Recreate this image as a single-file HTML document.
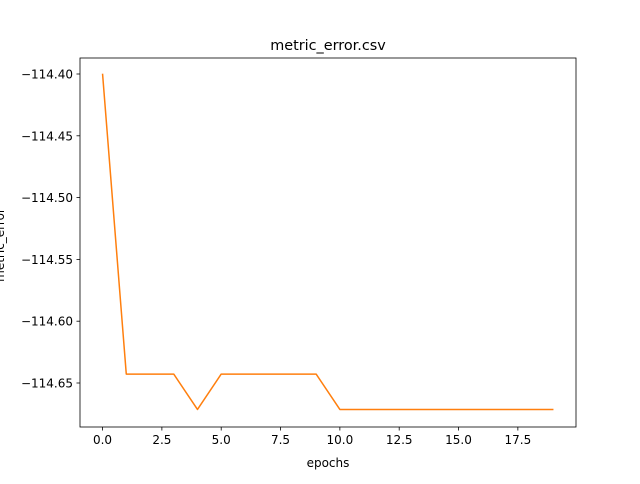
<!DOCTYPE html>
<html><head><meta charset="utf-8"><style>
body{margin:0;background:#fff;font-family:"DejaVu Sans","Liberation Sans",sans-serif;}
</style></head><body>
<svg width="640" height="480" xmlns="http://www.w3.org/2000/svg" style="font-family:'DejaVu Sans','Liberation Sans',sans-serif">
<rect width="640" height="480" fill="#fff"/>
<g id="chart"></g>
</svg>
<script>
const epochs=[0,1,2,3,4,5,6,7,8,9,10,11,12,13,14,15,16,17,18,19];
const errors=[-114.3997,-114.6428,-114.6428,-114.6428,-114.6714,-114.6428,-114.6428,-114.6428,-114.6428,-114.6428,-114.6714,-114.6714,-114.6714,-114.6714,-114.6714,-114.6714,-114.6714,-114.6714,-114.6714,-114.6714];
const xTicks=[0,2.5,5,7.5,10,12.5,15,17.5];
const xTickLabels=["0.0","2.5","5.0","7.5","10.0","12.5","15.0","17.5"];
const yTicks=[-114.40,-114.45,-114.50,-114.55,-114.60,-114.65];
const yTickLabels=["\u2212114.40","\u2212114.45","\u2212114.50","\u2212114.55","\u2212114.60","\u2212114.65"];
const L=80,R=576,T=58,B=427;
const xMin=-0.95,xMax=19.95;
const X=v=>L+(v-xMin)/(xMax-xMin)*(R-L);
const Y=v=>74+(-114.40-v)*1236;
const NS="http://www.w3.org/2000/svg";
const g=document.getElementById('chart');
function mk(t,a,txt){const e=document.createElementNS(NS,t);for(const k in a)e.setAttribute(k,a[k]);if(txt!==undefined)e.textContent=txt;g.appendChild(e);return e;}
const yl=mk('text',{x:0,y:0,'text-anchor':'middle','font-size':'12px',fill:'#000',transform:'translate(4,245) rotate(-90)'},'metric_error');


xTicks.forEach((v,i)=>{
 const t=mk('line',{x1:X(v),x2:X(v),y1:B,y2:B+3.5,stroke:'#000','stroke-width':0.8});
 
 
 const l=mk('text',{x:X(v),y:B+17,'text-anchor':'middle','font-size':'12px',fill:'#000'},xTickLabels[i]);
 
 
});
yTicks.forEach((v,i)=>{
 const t=mk('line',{x1:L-3.5,x2:L,y1:Y(v),y2:Y(v),stroke:'#000','stroke-width':0.8});
 
 
 const l=mk('text',{x:L-7,y:Y(v)+4.5,'text-anchor':'end','font-size':'12px',fill:'#000'},yTickLabels[i]);
 
 
});
const pts=epochs.map((e,i)=>X(e)+','+Y(errors[i])).join(' ');
const line=mk('polyline',{points:pts,fill:'none',stroke:'#ff7f0e','stroke-width':1.5,'stroke-linejoin':'round'});


const fr=mk('rect',{x:L,y:T,width:R-L,height:B-T,fill:'none',stroke:'#000','stroke-width':0.8});


const ti=mk('text',{x:(L+R)/2,y:50,'text-anchor':'middle','font-size':'14.4px',fill:'#000'},'metric_error.csv');


const xl=mk('text',{x:(L+R)/2,y:467,'text-anchor':'middle','font-size':'12px',fill:'#000'},'epochs');


</script>
</body></html>
